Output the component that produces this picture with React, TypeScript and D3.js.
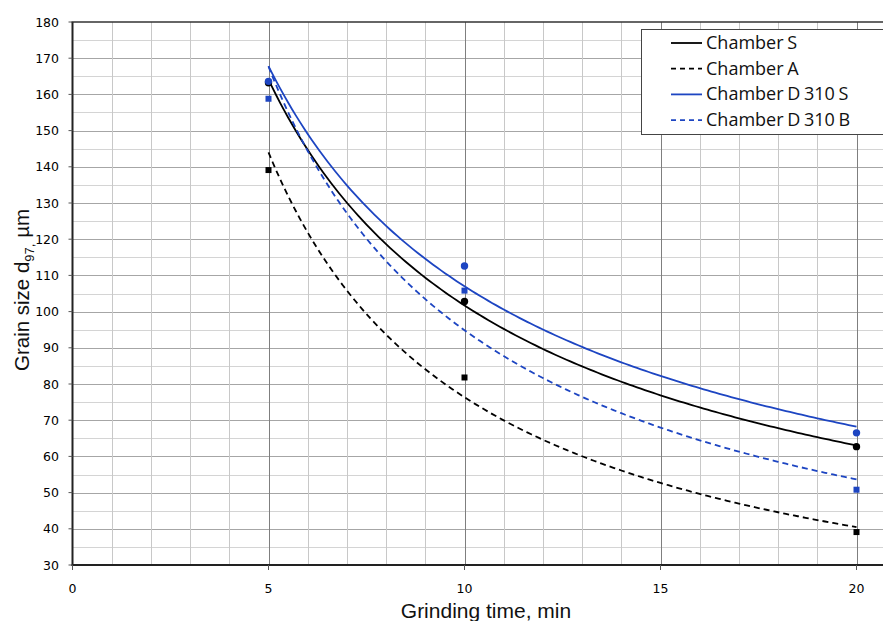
import React, { useEffect, useRef } from "react";
import * as d3 from "d3";

const times = [5, 10, 20];
const chamberS = [163.2, 102.8, 62.7];
const chamberA = [139.1, 81.8, 39.1];
const chamberD310S = [163.6, 112.6, 66.5];
const chamberD310B = [158.8, 105.8, 50.8];
const xTicks = [0, 5, 10, 15, 20];
const yTicks = [30, 40, 50, 60, 70, 80, 90, 100, 110, 120, 130, 140, 150, 160, 170, 180];

const BLUE = "#1d45c2";

const series = [
  { name: "Chamber S", values: chamberS, color: "#000", dash: null, marker: "circle" },
  { name: "Chamber A", values: chamberA, color: "#000", dash: "6,4", marker: "square" },
  { name: "Chamber D 310 S", values: chamberD310S, color: BLUE, dash: null, marker: "circle" },
  { name: "Chamber D 310 B", values: chamberD310B, color: BLUE, dash: "6,4", marker: "square" },
];

// power trendline y = a * x^b, least squares in log space (like Excel)
function powerFit(xs: number[], ys: number[]) {
  const lx = xs.map(Math.log);
  const ly = ys.map(Math.log);
  const mx = d3.mean(lx)!;
  const my = d3.mean(ly)!;
  const b = d3.sum(lx, (v, i) => (v - mx) * (ly[i] - my)) / d3.sum(lx, (v) => (v - mx) ** 2);
  const a = Math.exp(my - b * mx);
  return (x: number) => a * Math.pow(x, b);
}

export default function App() {
  const svgRef = useRef<SVGSVGElement>(null);

  useEffect(() => {
    const svg = d3.select(svgRef.current);
    svg.selectAll("*").remove();

    const x = d3.scaleLinear().domain([0, 20]).range([72.5, 856.5]);
    const y = d3.scaleLinear().domain([30, 180]).range([565, 22]);
    const left = 72.5, right = 900, top = 22, bottom = 565;

    const grid = svg.append("g");
    // horizontal grid
    d3.range(35, 180, 5).forEach((v) => {
      grid.append("line")
        .attr("x1", left).attr("x2", right)
        .attr("y1", Math.round(y(v)) + 0.5).attr("y2", Math.round(y(v)) + 0.5)
        .attr("stroke", v % 10 === 0 ? "#a6a6a6" : "#d4d4d4")
        .attr("stroke-width", 1);
    });
    // vertical grid
    d3.range(1, 22, 1).forEach((v) => {
      grid.append("line")
        .attr("x1", Math.round(x(v)) + 0.5).attr("x2", Math.round(x(v)) + 0.5)
        .attr("y1", top).attr("y2", bottom)
        .attr("stroke", v % 5 === 0 ? "#7f7f7f" : "#c8c8c8")
        .attr("stroke-width", 1);
    });

    // frame
    svg.append("line").attr("x1", left - 1).attr("x2", right).attr("y1", top).attr("y2", top)
      .attr("stroke", "#333").attr("stroke-width", 1.5);
    svg.append("line").attr("x1", left).attr("x2", left).attr("y1", top).attr("y2", bottom + 1)
      .attr("stroke", "#222").attr("stroke-width", 2);
    svg.append("line").attr("x1", left - 1).attr("x2", right).attr("y1", bottom).attr("y2", bottom)
      .attr("stroke", "#222").attr("stroke-width", 2);

    // y axis ticks and labels
    const yAxis = svg.append("g");
    yTicks.forEach((v) => {
      yAxis.append("line").attr("x1", left - 4).attr("x2", left)
        .attr("y1", y(v)).attr("y2", y(v)).attr("stroke", "#555");
      yAxis.append("text").attr("x", 59).attr("y", y(v) + 4.5)
        .attr("text-anchor", "end")
        .attr("font-family", "DejaVu Sans, Verdana, sans-serif")
        .attr("font-size", 12.5).attr("fill", "#000").text(v);
    });
    // x axis ticks and labels
    const xAxis = svg.append("g");
    xTicks.forEach((v) => {
      xAxis.append("line").attr("x1", x(v)).attr("x2", x(v))
        .attr("y1", bottom).attr("y2", bottom + 5).attr("stroke", "#555");
      xAxis.append("text").attr("x", x(v)).attr("y", 593)
        .attr("text-anchor", "middle")
        .attr("font-family", "DejaVu Sans, Verdana, sans-serif")
        .attr("font-size", 12.5).attr("fill", "#000").text(v);
    });

    // axis titles
    svg.append("text").attr("x", 486).attr("y", 618)
      .attr("text-anchor", "middle")
      .attr("font-family", "Liberation Sans, Arial, sans-serif")
      .attr("font-size", 21).attr("fill", "#111").text("Grinding time, min");

    const yt = svg.append("text")
      .attr("transform", "translate(29,290) rotate(-90)")
      .attr("text-anchor", "middle")
      .attr("font-family", "Liberation Sans, Arial, sans-serif")
      .attr("font-size", 20.5).attr("fill", "#111");
    yt.append("tspan").text("Grain size d");
    yt.append("tspan").attr("dy", 5).attr("font-size", 13).text("97,");
    yt.append("tspan").attr("dy", -5).text(" µm");

    // trend curves
    series.forEach((s) => {
      const f = powerFit(times, s.values);
      const pts = d3.range(5, 20.001, 0.1).map((t) => [t, f(t)] as [number, number]);
      svg.append("path")
        .attr("d", d3.line<[number, number]>().x((d) => x(d[0])).y((d) => y(d[1]))(pts))
        .attr("fill", "none").attr("stroke", s.color).attr("stroke-width", 1.8)
        .attr("stroke-dasharray", s.dash);
    });

    // markers
    series.forEach((s) => {
      s.values.forEach((v, i) => {
        if (s.marker === "circle") {
          svg.append("circle").attr("cx", x(times[i])).attr("cy", y(v)).attr("r", 3.7)
            .attr("fill", s.color);
        } else {
          svg.append("rect").attr("x", x(times[i]) - 3).attr("y", y(v) - 3)
            .attr("width", 6).attr("height", 6).attr("fill", s.color);
        }
      });
    });

    // legend
    const lg = svg.append("g");
    lg.append("rect").attr("x", 641.5).attr("y", 29.5).attr("width", 260).attr("height", 105)
      .attr("fill", "#fff").attr("stroke", "#444").attr("stroke-width", 1);
    series.forEach((s, i) => {
      const cy = 43 + i * 25.7;
      lg.append("line").attr("x1", 671).attr("x2", 702).attr("y1", cy).attr("y2", cy)
        .attr("stroke", s.color).attr("stroke-width", 1.8)
        .attr("stroke-dasharray", s.dash ? "5,4" : null);
      lg.append("text").attr("x", 706).attr("y", cy + 6)
        .attr("font-family", "Open Sans, Noto Sans, sans-serif")
        .attr("font-size", 18).attr("word-spacing", -1).attr("fill", "#111").text(s.name);
    });
  }, []);

  return (
    <svg ref={svgRef} width={883} height={621}
      style={{ position: "absolute", left: 0, top: 0, background: "#fff" }} />
  );
}
